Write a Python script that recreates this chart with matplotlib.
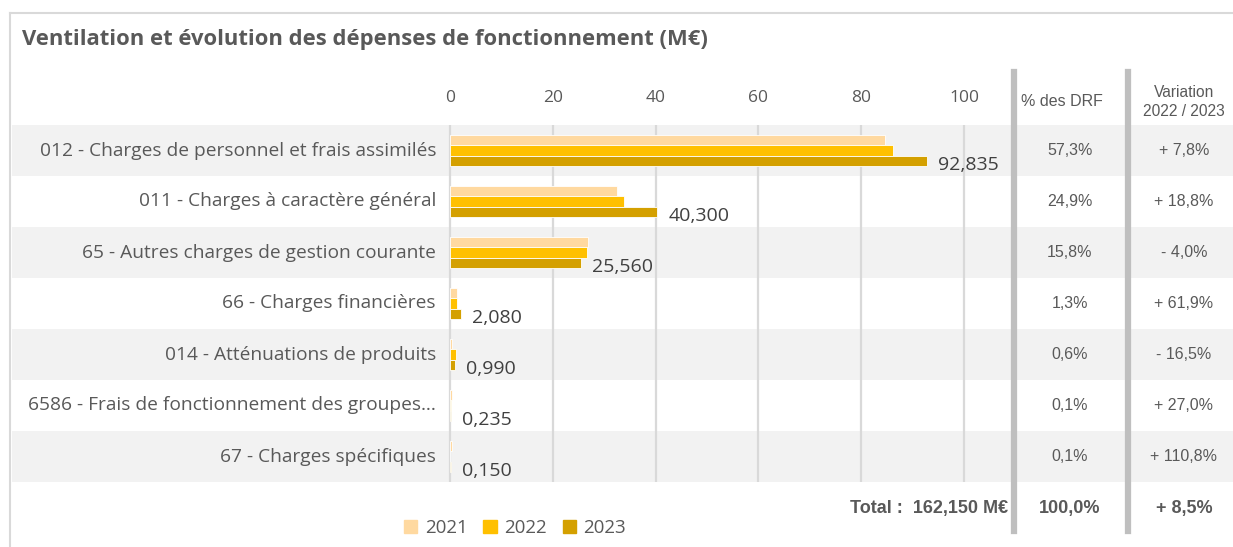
import matplotlib
matplotlib.use("Agg")
import matplotlib.pyplot as plt
from matplotlib.lines import Line2D
from matplotlib.patches import Rectangle
import matplotlib.transforms as mtransforms

# ---------------- data ----------------
categories = [
    "012 - Charges de personnel et frais assimilés",
    "011 - Charges à caractère général",
    "65 - Autres charges de gestion courante",
    "66 - Charges financières",
    "014 - Atténuations de produits",
    "6586 - Frais de fonctionnement des groupes…",
    "67 - Charges spécifiques",
]
years = ["2021", "2022", "2023"]
values_2021 = [84.7, 32.5, 26.9, 1.45, 0.3, 0.3, 0.3]
values_2022 = [86.12, 33.92, 26.63, 1.285, 1.186, 0.185, 0.071]
values_2023 = [92.835, 40.300, 25.560, 2.080, 0.990, 0.235, 0.150]
labels_2023 = ["92,835", "40,300", "25,560", "2,080", "0,990", "0,235", "0,150"]
pct_drf = ["57,3%", "24,9%", "15,8%", "1,3%", "0,6%", "0,1%", "0,1%"]
variation = ["+ 7,8%", "+ 18,8%", "- 4,0%", "+ 61,9%", "- 16,5%", "+ 27,0%", "+ 110,8%"]
xticks = [0, 20, 40, 60, 80, 100]
total_label = "Total :  162,150 M€"
total_pct = "100,0%"
total_var = "+ 8,5%"
title = "Ventilation et évolution des dépenses de fonctionnement (M€)"

colors = ["#FFD9A0", "#FFC000", "#D4A000"]
text_col = "#595959"
grid_col = "#D9D9D9"
band_col = "#F2F2F2"

W, H = 1233, 547
fig = plt.figure(figsize=(W / 100, H / 100), dpi=100)

def fx(p):
    return p / W

def fy(p):
    return 1 - p / H

# pixel layout
x_left, x_right = 12, W
y_top, y_bot = 125, 482
px0, px100 = 450, 964
ppu = (px100 - px0) / 100.0

ax = fig.add_axes([fx(x_left), fy(y_bot), fx(x_right - x_left), (y_bot - y_top) / H])
ax.set_xlim((x_left - px0) / ppu, (x_right - px0) / ppu)
n = len(categories)
ax.set_ylim(n - 0.5, -0.5)
for s in ax.spines.values():
    s.set_visible(False)
ax.set_yticks([])

# bands
for i in range(n):
    if i % 2 == 0:
        ax.axhspan(i - 0.5, i + 0.5, color=band_col, zorder=0, lw=0)

# gridlines
ax.vlines(xticks, -0.5, n - 0.5, colors=grid_col, lw=1.6, zorder=1)

# ticks on top
ax.xaxis.tick_top()
ax.set_xticks(xticks)
ax.set_xticklabels([str(t) for t in xticks])
ax.tick_params(axis="x", length=0, pad=14, labelsize=12.5, labelcolor=text_col)
for lab in ax.get_xticklabels():
    lab.set_family("Open Sans")

# bars
h = 0.205
series = [values_2021, values_2022, values_2023]
for k, (vals, c) in enumerate(zip(series, colors)):
    ys = [i + (k - 1) * h for i in range(n)]
    ax.barh(ys, vals, height=h, color=c, zorder=2, lw=0.6, edgecolor="white")

# value labels for 2023
for i, (v, lab) in enumerate(zip(values_2023, labels_2023)):
    ax.annotate(lab, (v, i + h), xytext=(8, -3), textcoords="offset points",
                ha="left", va="center", fontsize=14, color="#404040", family="Open Sans")

# category labels
blend = mtransforms.blended_transform_factory(fig.transFigure, ax.transData)
for i, c in enumerate(categories):
    ax.text(fx(436), i, c, transform=blend, ha="right", va="center",
            fontsize=13.8, color=text_col, family="Open Sans")

# table columns
col1, col2 = 1070, 1184
for i in range(n):
    ax.text(fx(col1), i, pct_drf[i], transform=blend, ha="center", va="center",
            fontsize=11.5, color=text_col, family="Liberation Sans")
    ax.text(fx(col2), i, variation[i], transform=blend, ha="center", va="center",
            fontsize=11.5, color=text_col, family="Liberation Sans")

# headers
fig.text(fx(col1 - 8), fy(102), "% des DRF", ha="center", va="center",
         fontsize=11.5, color=text_col, family="Liberation Sans")
fig.text(fx(col2), fy(102), "Variation\n2022 / 2023", ha="center", va="center",
         fontsize=11.2, color=text_col, family="Liberation Sans", linespacing=1.35)

# totals
fig.text(fx(1008), fy(508), total_label, ha="right", va="center",
         fontsize=13, color=text_col, family="Liberation Sans", weight="bold")
fig.text(fx(col1), fy(508), total_pct, ha="center", va="center",
         fontsize=13, color=text_col, family="Liberation Sans", weight="bold")
fig.text(fx(col2), fy(508), total_var, ha="center", va="center",
         fontsize=13, color=text_col, family="Liberation Sans", weight="bold")

# thick separator lines
for xp in (1014, 1128):
    fig.add_artist(Line2D([fx(xp), fx(xp)], [fy(72), fy(531)], color="#BFBFBF", lw=4.5))

# outer border
fig.add_artist(Line2D([fx(10), fx(W)], [fy(13), fy(13)], color=grid_col, lw=1.5))
fig.add_artist(Line2D([fx(10), fx(10)], [fy(13), 0], color=grid_col, lw=1.5))

# title
fig.text(fx(22), fy(39), title, ha="left", va="center", fontsize=15.8,
         weight="bold", color=text_col, family="Open Sans")

# legend
handles = [Rectangle((0, 0), 1, 1, color=c) for c in colors]
fig.legend(handles, years, loc="center", bbox_to_anchor=(fx(515), fy(528)), ncol=3,
           frameon=False, handlelength=0.7, handleheight=0.7, handletextpad=0.4,
           columnspacing=0.85, prop={"family": "Open Sans", "size": 13.5}, labelcolor=text_col)

fig.savefig("out.png", dpi=100)
